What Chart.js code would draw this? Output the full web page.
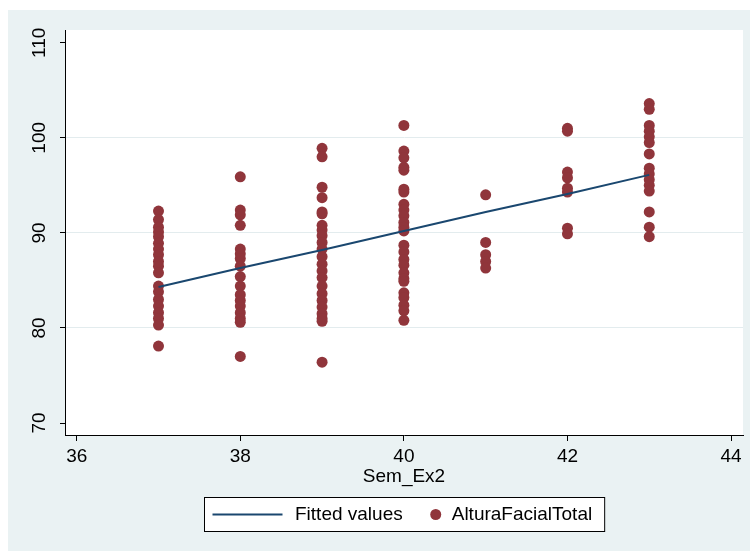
<!DOCTYPE html>
<html>
<head>
<meta charset="utf-8">
<style>
  html, body { margin: 0; padding: 0; background: #fff; }
  #wrap { width: 750px; height: 551px; }
</style>
<script src="https://cdn.jsdelivr.net/npm/chart.js"></script>
</head>
<body>
<div id="wrap"><canvas id="chart" width="750" height="551"></canvas></div>
<script>
// Sem_Ex2 (x) vs AlturaFacialTotal (y), with linear fit

const xTicks = [36, 38, 40, 42, 44];
const yTicks = [70, 80, 90, 100, 110];
const yGridLines = [80, 90, 100];

const xTitle = 'Sem_Ex2';
const fitLabel = 'Fitted values';
const scatterLabel = 'AlturaFacialTotal';

// observed values per Sem_Ex2 group
const weeks = [37, 38, 39, 40, 41, 42, 43];
const y37 = [92.3, 91.4, 90.6, 90.1, 89.6, 88.9, 88.3, 87.7, 87.0, 86.5, 85.8, 84.4, 83.8, 83.0, 82.3, 81.6, 81.0, 80.3, 78.1];
const y38 = [95.9, 92.4, 91.9, 90.8, 88.3, 87.8, 87.3, 86.5, 85.4, 84.4, 83.5, 82.9, 82.3, 81.6, 81.0, 80.6, 77.0];
const y39 = [98.9, 98.0, 94.8, 93.7, 92.2, 92.0, 90.8, 90.3, 89.7, 89.0, 88.3, 87.5, 86.7, 86.0, 85.3, 84.4, 83.6, 82.9, 82.2, 81.5, 81.0, 80.7, 76.4];
const y40 = [101.3, 98.6, 97.9, 96.9, 96.6, 94.6, 94.3, 93.0, 92.4, 91.8, 91.1, 90.6, 90.2, 88.7, 88.0, 87.2, 86.6, 85.8, 85.2, 84.9, 83.7, 83.2, 82.4, 81.8, 80.8];
const y41 = [94.0, 89.0, 87.7, 87.0, 86.3];
const y42 = [101.0, 100.7, 96.4, 95.8, 94.7, 94.3, 90.5, 89.9];
const y43 = [103.6, 103.0, 101.3, 100.7, 100.1, 99.5, 98.3, 96.8, 96.2, 95.6, 95.0, 94.4, 92.2, 90.6, 89.6];

// fitted values
const fitX = [37, 38, 39, 40, 41, 42, 43];
const fitY = [84.3, 86.3, 88.2, 90.2, 92.2, 94.1, 96.1];

const groups = [y37, y38, y39, y40, y41, y42, y43];
const scatterPoints = [];
groups.forEach((vals, i) => {
  vals.forEach(v => scatterPoints.push({ x: weeks[i], y: v }));
});
const fitPoints = fitX.map((x, i) => ({ x: x, y: fitY[i] }));

const FONT = "'Liberation Sans', Arial, sans-serif";
const lineColor = '#1a476f';
const dotColor = '#90353b';
const outerBg = '#eaf2f3';
const gridColor = '#e3ecee';

const stataPlugin = {
  id: 'stata',
  beforeDraw(chart) {
    const ctx = chart.ctx;
    const a = chart.chartArea;
    ctx.save();
    ctx.fillStyle = '#fff';
    ctx.fillRect(0, 0, chart.width, chart.height);
    ctx.fillStyle = outerBg;
    ctx.fillRect(8, 10, chart.width - 8, chart.height - 10);
    ctx.fillStyle = '#fff';
    ctx.fillRect(a.left, a.top, a.right - a.left, a.bottom - a.top);
    ctx.restore();
  },
  afterDraw(chart) {
    const ctx = chart.ctx;
    const a = chart.chartArea;
    const ys = chart.scales.y;
    ctx.save();
    ctx.fillStyle = '#000';
    ctx.font = '19px ' + FONT;

    // rotated y tick labels
    yTicks.forEach(v => {
      const py = ys.getPixelForValue(v);
      ctx.save();
      ctx.translate(40, py);
      ctx.rotate(-Math.PI / 2);
      ctx.textAlign = 'center';
      ctx.textBaseline = 'middle';
      ctx.fillText(String(v), 0, 0);
      ctx.restore();
    });

    // x axis title
    const cx = (a.left + a.right) / 2;
    ctx.textAlign = 'center';
    ctx.textBaseline = 'middle';
    ctx.fillText(xTitle, cx, 477);

    // legend box
    const w1 = ctx.measureText(fitLabel).width;
    const w2 = ctx.measureText(scatterLabel).width;
    const boxW = 8 + 70 + 12.5 + w1 + 27.5 + 11 + 10.5 + w2 + 12.5;
    const bx = Math.round(cx - boxW / 2) + 0.5;
    const by = 497.5, bh = 34, my = by + bh / 2;
    ctx.fillStyle = '#fff';
    ctx.fillRect(bx, by, boxW, bh);
    ctx.strokeStyle = '#000';
    ctx.lineWidth = 1;
    ctx.strokeRect(bx, by, boxW, bh);

    let x = bx + 8;
    ctx.strokeStyle = lineColor;
    ctx.lineWidth = 2;
    ctx.beginPath();
    ctx.moveTo(x, my);
    ctx.lineTo(x + 70, my);
    ctx.stroke();
    x += 70 + 12.5;

    ctx.fillStyle = '#000';
    ctx.textAlign = 'left';
    ctx.fillText(fitLabel, x, my);
    x += w1 + 27.5;

    ctx.fillStyle = dotColor;
    ctx.beginPath();
    ctx.arc(x + 5.5, my, 5.5, 0, Math.PI * 2);
    ctx.fill();
    x += 11 + 10.5;

    ctx.fillStyle = '#000';
    ctx.fillText(scatterLabel, x, my);
    ctx.restore();
  }
};

new Chart(document.getElementById('chart'), {
  type: 'scatter',
  data: {
    datasets: [
      {
        type: 'line',
        label: fitLabel,
        data: fitPoints,
        borderColor: lineColor,
        borderWidth: 2,
        pointRadius: 0,
        fill: false,
        tension: 0
      },
      {
        type: 'scatter',
        label: scatterLabel,
        data: scatterPoints,
        backgroundColor: dotColor,
        borderColor: dotColor,
        borderWidth: 0,
        pointRadius: 5.5
      }
    ]
  },
  options: {
    responsive: false,
    animation: false,
    devicePixelRatio: 1,
    layout: { padding: { left: 8, right: 7, top: 30, bottom: 0 } },
    plugins: {
      legend: { display: false },
      tooltip: { enabled: false }
    },
    scales: {
      x: {
        type: 'linear',
        min: 35.857,
        max: 44.146,
        afterBuildTicks: s => { s.ticks = xTicks.map(v => ({ value: v })); },
        afterFit: s => { s.height = 116; },
        border: { display: true, color: '#000', width: 1 },
        grid: { drawOnChartArea: false, tickLength: 6, tickColor: '#000' },
        ticks: { color: '#000', font: { family: FONT, size: 19 }, padding: 4, maxRotation: 0 }
      },
      y: {
        type: 'linear',
        min: 68.74,
        max: 111.34,
        afterBuildTicks: s => { s.ticks = yTicks.map(v => ({ value: v })); },
        afterFit: s => { s.width = 57; },
        border: { display: true, color: '#000', width: 1 },
        grid: {
          color: c => (c.tick && yGridLines.includes(c.tick.value)) ? gridColor : 'rgba(0,0,0,0)',
          tickColor: '#000',
          tickLength: 5,
          drawTicks: true
        },
        ticks: { display: false }
      }
    }
  },
  plugins: [stataPlugin]
});
</script>
</body>
</html>
